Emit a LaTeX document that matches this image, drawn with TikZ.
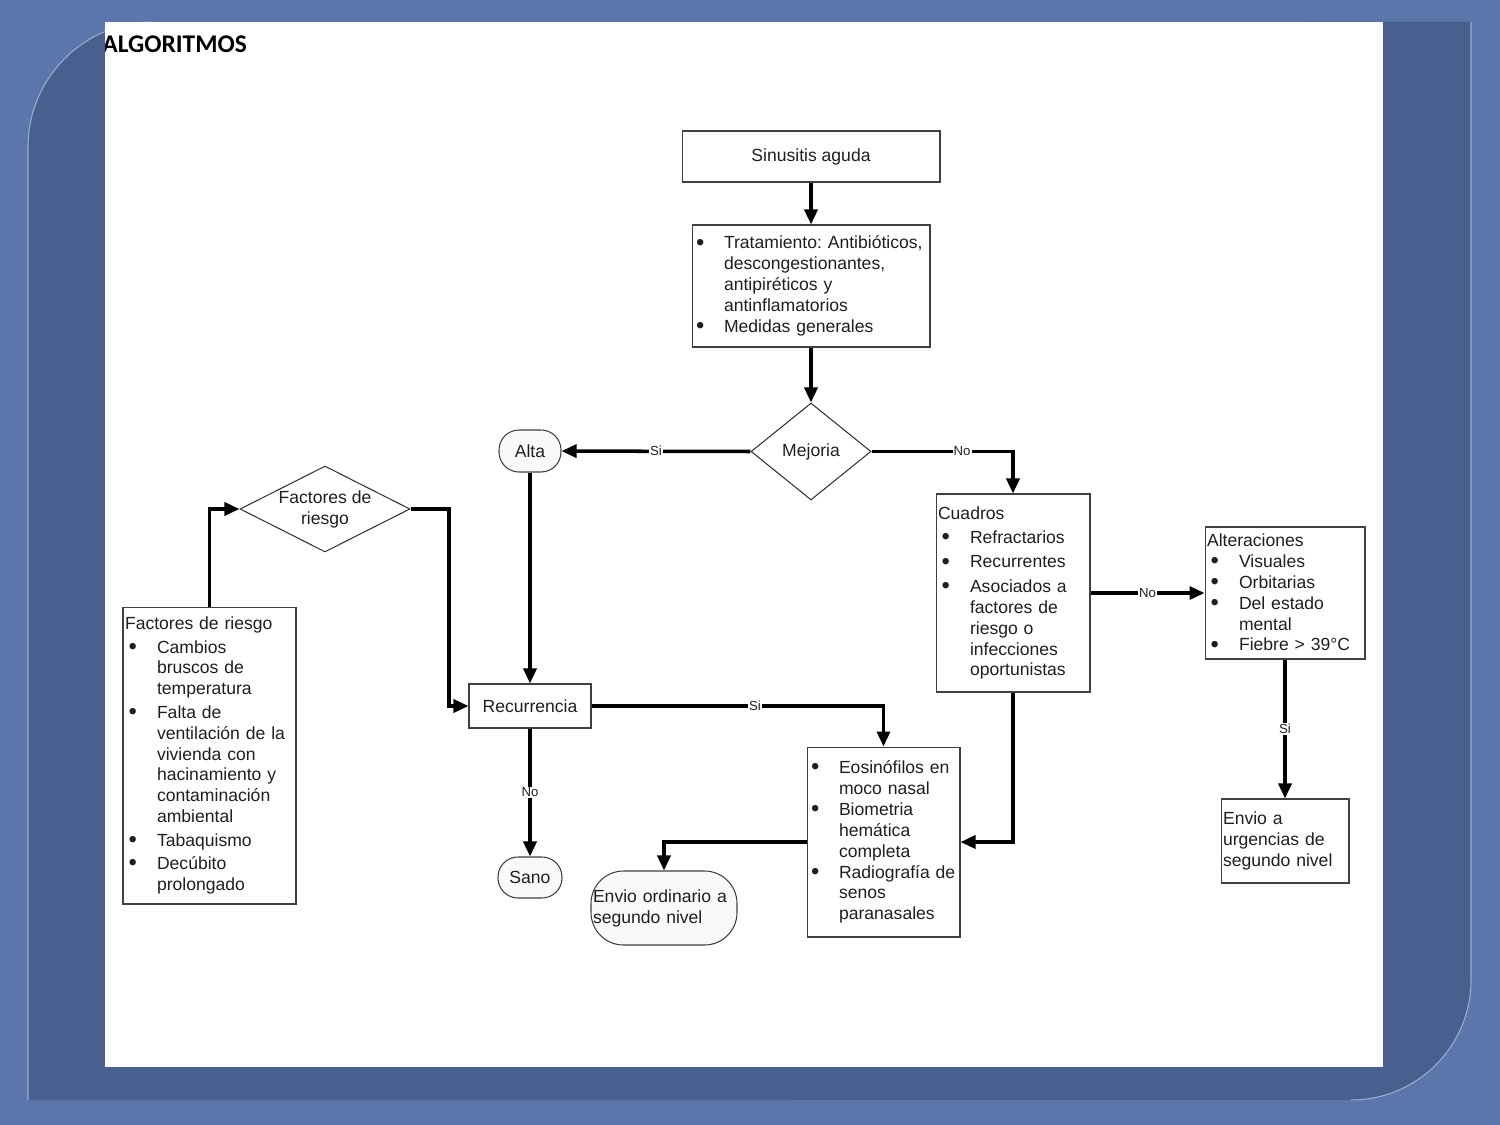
\documentclass[tikz,border=0pt]{standalone}
\usepackage{fontspec}
\setmainfont{Liberation Sans}
\newfontfamily\titlefont{Carlito}
\usepackage{graphicx}
\usepackage{tikz}
\usetikzlibrary{arrows.meta, shapes.geometric, shadows}
\frenchspacing
\definecolor{bgout}{HTML}{5A76AA}
\definecolor{bgpanel}{HTML}{48608F}
\newcommand{\bul}{\raisebox{-0.15ex}{\scalebox{1.35}{\textbullet}}}
\newcommand{\itm}{\makebox[0.56cm][l]{\bul}}
\newcommand{\ind}{\hspace*{0.56cm}}
\newcommand{\sitm}{\makebox[0.64cm][l]{\hspace{0.07cm}\bul}}
\newcommand{\sind}{\hspace*{0.64cm}}

\begin{document}
\begin{tikzpicture}[x=0.02cm, y=-0.02cm,
  every node/.style={text=black!88, font=\fontsize{10}{11.9}\selectfont},
  box/.style={rectangle, draw=black!75, line width=0.6pt, fill=white, inner sep=0pt,
    drop shadow={shadow xshift=0.025cm, shadow yshift=-0.025cm, fill=black!30, opacity=1}},
  listbox/.style={box, align=left, inner xsep=0.08cm},
  term/.style={rectangle, draw=black!75, line width=0.6pt, fill=gray!5, inner sep=0pt},
  decision/.style={diamond, draw=black!80, line width=0.6pt, fill=white, inner sep=0pt},
  conn/.style={line width=2pt, -{Triangle[length=0.3cm, width=0.26cm]}},
  lab/.style={fill=white, inner sep=0.6pt, font=\fontsize{7.5}{8}\selectfont}]
\useasboundingbox (0,0) rectangle (1500,1125);
% background
\fill[bgout] (0,0) rectangle (1500,1125);
\fill[bgpanel] (28,1100) -- (28,147) arc[start angle=180, end angle=90, radius=2.5cm]
  -- (1471,22) -- (1471,980) arc[start angle=0, end angle=-90, radius=2.4cm] -- cycle;
\draw[bgout!60!white, line width=0.6pt] (28,1100) -- (28,147) arc[start angle=180, end angle=90, radius=2.5cm];
\draw[bgout!60!white, line width=0.6pt] (1471,22) -- (1471,980) arc[start angle=0, end angle=-90, radius=2.4cm];
\fill[white] (105,22) rectangle (1383,1067);
\begin{scope}
\clip (105,22) rectangle (1383,1067);
\node[anchor=base west, inner sep=0pt, text=black, font=\titlefont\bfseries\fontsize{14.5}{15}\selectfont] (title) at (102,53) {ALGORITMOS};
\end{scope}

% nodes
\node[box, minimum width=5.16cm, minimum height=1.02cm] (sinus) at (811,156.5) {Sinusitis aguda};
\node[listbox, text width=4.6cm, minimum height=2.44cm] (trat) at (811,286)
  {\itm Tratamiento: Antibióticos,\\\ind descongestionantes,\\\ind antipiréticos y\\\ind antinflamatorios\\\itm Medidas generales};
\node[decision, minimum width=2.4cm, minimum height=1.94cm, label=center:Mejoria] (mejor) at (811,451.5) {};
\node[term, minimum width=1.24cm, minimum height=0.84cm, rounded corners=0.4cm] (alta) at (530,451) {Alta};
\node[decision, minimum width=3.4cm, minimum height=1.72cm, label={[align=center]center:Factores de\\riesgo}] (fdiam) at (325,509) {};
\node[listbox, inner xsep=0.04cm, text width=3.38cm, minimum height=5.94cm] (factbox) at (209.5,755.5)
  {Factores de riesgo\\[0.05cm]\sitm Cambios\\\sind bruscos de\\\sind temperatura\\[0.05cm]\sitm Falta de\\\sind ventilación de la\\\sind vivienda con\\\sind hacinamiento y\\\sind contaminación\\\sind ambiental\\[0.05cm]\sitm Tabaquismo\\[0.05cm]\sitm Decúbito\\\sind prolongado};
\node[box, minimum width=2.44cm, minimum height=0.88cm] (recur) at (530,706) {Recurrencia};
\node[term, minimum width=1.28cm, minimum height=0.82cm, rounded corners=0.4cm] (sano) at (530,877.5) {Sano};
\node[term, align=left, inner xsep=0.04cm, text width=2.84cm, minimum height=1.48cm, rounded corners=0.65cm] (envio) at (664,908)
  {Envio ordinario a\\segundo nivel};
\node[listbox, text width=2.9cm, minimum height=3.8cm] (eosin) at (883.5,842)
  {\itm Eosinófilos en\\\ind moco nasal\\\itm Biometria\\\ind hemática\\\ind completa\\\itm Radiografía de\\\ind senos\\\ind paranasales};
\node[listbox, inner xsep=0.04cm, text width=3.0cm, minimum height=3.96cm] (cuadros) at (1013,593)
  {Cuadros\\[0.07cm]\sitm Refractarios\\[0.07cm]\sitm Recurrentes\\[0.07cm]\sitm Asociados a\\\sind factores de\\\sind riesgo o\\\sind infecciones\\\sind oportunistas};
\node[listbox, inner xsep=0.04cm, text width=3.12cm, minimum height=2.64cm] (alter) at (1285,593)
  {Alteraciones\\\sitm Visuales\\\sitm Orbitarias\\\sitm Del estado\\\sind mental\\\sitm Fiebre > 39°C};
\node[listbox, inner xsep=0.04cm, text width=2.48cm, minimum height=1.68cm] (urg) at (1285,841)
  {Envio a\\urgencias de\\segundo nivel};

% connectors
\draw[conn] (sinus) -- (trat);
\draw[conn] (trat) -- (mejor);
\draw[conn] (mejor.west) -- node[lab]{Si} (alta);
\draw[conn] (mejor.east) -| node[lab, pos=0.32]{No} (cuadros.north);
\draw[conn] (cuadros) -- node[lab]{No} (alter);
\draw[conn] (alter) -- node[lab]{Si} (urg);
\draw[conn] (cuadros.south) |- (eosin.east);
\draw[conn] (alta) -- (recur);
\draw[conn] (recur.east) -| node[lab, pos=0.28]{Si} (eosin.north);
\draw[conn] (recur) -- node[lab]{No} (sano);
\draw[conn] (eosin.west) -| (envio.north);
\draw[conn] (factbox.north) |- (fdiam.west);
\coordinate (fbend) at (449,509);
\draw[conn] (fdiam.east) -- (fbend) |- (recur.west);
\end{tikzpicture}
\end{document}
